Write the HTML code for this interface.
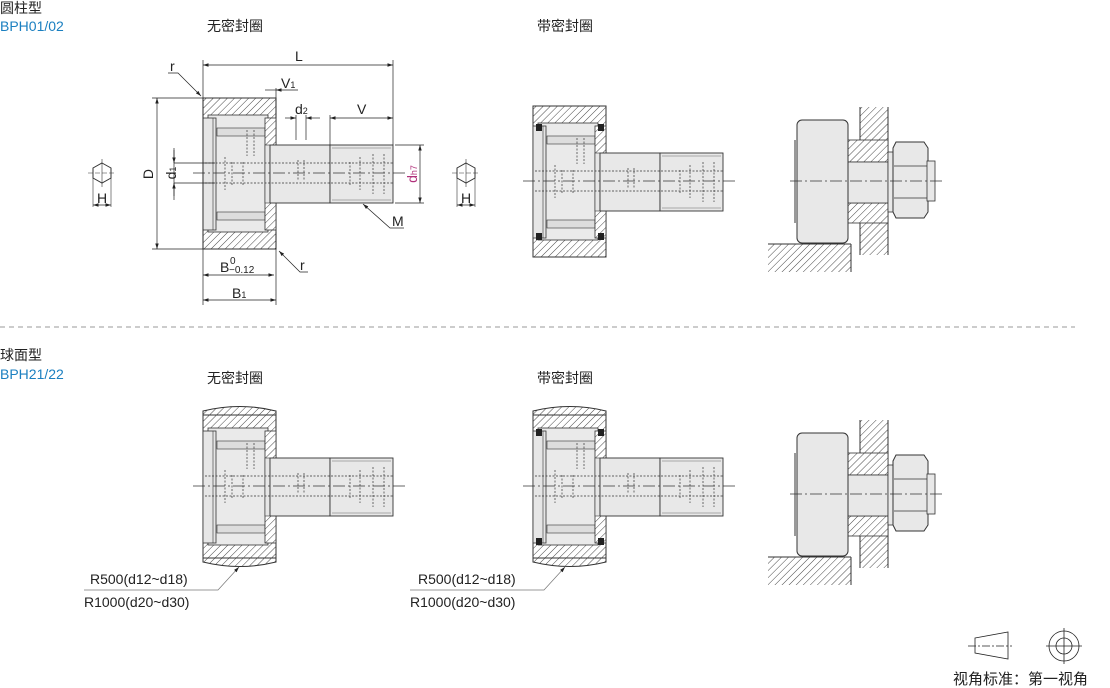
<!DOCTYPE html>
<html><head><meta charset="utf-8"><style>
body{margin:0;background:#fff;}
svg{display:block;font-family:"Liberation Sans","Noto Sans CJK SC",sans-serif;}
</style></head><body>
<svg width="1110" height="688" viewBox="0 0 1110 688" xmlns="http://www.w3.org/2000/svg">
<defs>
<pattern id="h" width="5" height="5" patternUnits="userSpaceOnUse" patternTransform="rotate(45)">
<rect width="5" height="5" fill="#fff"/><line x1="0" y1="0" x2="0" y2="5" stroke="#333" stroke-width="0.9"/></pattern>
<marker id="a" markerWidth="8" markerHeight="6" refX="8" refY="3" orient="auto-start-reverse"><path d="M0,0.5 L8,3 L0,5.5z" fill="#222"/></marker>
<g id="brg">
 <rect x="203" y="98" width="73" height="151" fill="url(#h)" stroke="#333" stroke-width="1"/>
 <rect x="208" y="115" width="60" height="117" fill="#eaeaea" stroke="#333" stroke-width="0.8"/>
 <rect x="203" y="118" width="13" height="112" fill="#e6e6e6" stroke="#333" stroke-width="0.8"/>
 <line x1="213" y1="118" x2="213" y2="230" stroke="#333" stroke-width="0.6"/>
 <rect x="217" y="128" width="48" height="8" fill="#ddd" stroke="#333" stroke-width="0.6"/>
 <rect x="217" y="212" width="48" height="8" fill="#ddd" stroke="#333" stroke-width="0.6"/>
 <rect x="265" y="118" width="11" height="112" fill="url(#h)" stroke="#333" stroke-width="0.8"/>
 <rect x="265" y="145" width="5" height="58" fill="#e6e6e6" stroke="#333" stroke-width="0.6"/>
 <rect x="270" y="145" width="60" height="58" fill="#e8e8e8" stroke="#333" stroke-width="0.9"/>
 <rect x="330" y="145" width="63" height="58" fill="#e8e8e8" stroke="#333" stroke-width="0.9"/>
 <line x1="332" y1="148" x2="391" y2="148" stroke="#666" stroke-width="0.5"/>
 <line x1="332" y1="200" x2="391" y2="200" stroke="#666" stroke-width="0.5"/>
 <g stroke="#333" stroke-width="0.7" stroke-dasharray="2,1.5" fill="none">
  <line x1="205" y1="163" x2="393" y2="163"/><line x1="205" y1="183" x2="393" y2="183"/>
  <path d="M225,157 v33 M232,162 v24 M243,162 v24 M298,160 v20 M304,160 v20 M350,162 v24 M360,157 v33 M373,154 v40 M384,154 v40 M247,130 v26 M254,130 v26"/>
 </g>
</g>
<g id="sph">
 <path d="M203,98 Q240,89 276,98 V102 H203z" fill="url(#h)" stroke="#333" stroke-width="1"/>
 <path d="M203,249 Q240,258 276,249 V245 H203z" fill="url(#h)" stroke="#333" stroke-width="1"/>
</g>
<g id="mnt">
 <rect x="768" y="244" width="83" height="28" fill="url(#h)"/>
 <line x1="768" y1="244" x2="851" y2="244" stroke="#333"/><line x1="851" y1="244" x2="851" y2="272" stroke="#333"/>
 <rect x="860" y="107" width="28" height="148" fill="url(#h)"/>
 <line x1="860" y1="107" x2="860" y2="140" stroke="#333"/><line x1="860" y1="222" x2="860" y2="255" stroke="#333"/><line x1="888" y1="107" x2="888" y2="255" stroke="#333"/>
 <rect x="848" y="140" width="40" height="22" fill="url(#h)" stroke="#333" stroke-width="0.8"/>
 <rect x="848" y="203" width="40" height="20" fill="url(#h)" stroke="#333" stroke-width="0.8"/>
 <rect x="848" y="162" width="40" height="41" fill="#e8e8e8" stroke="#333" stroke-width="0.8"/>
 <rect x="797" y="120" width="51" height="123" rx="5" fill="#e8e8e8" stroke="#333"/>
 <line x1="795" y1="140" x2="795" y2="223" stroke="#333"/>
 <rect x="888" y="152" width="6" height="60" fill="#e8e8e8" stroke="#333" stroke-width="0.8"/>
 <path d="M896,142 h28 l4,6 v64 l-4,6 h-28 l-3,-6 v-64z" fill="#e8e8e8" stroke="#333"/>
 <line x1="894" y1="166" x2="927" y2="166" stroke="#333" stroke-width="0.7"/>
 <line x1="894" y1="198" x2="927" y2="198" stroke="#333" stroke-width="0.7"/>
 <rect x="927" y="161" width="8" height="40" fill="#e8e8e8" stroke="#333" stroke-width="0.8"/>
 <line x1="790" y1="181" x2="942" y2="181" stroke="#333" stroke-width="0.7" stroke-dasharray="12,3,2,3"/>
</g>
<g id="hex">
 <polygon points="0,-10 9,-5 9,5 0,10 -9,5 -9,-5" fill="#fff" stroke="#333"/>
 <line x1="-14" y1="0" x2="14" y2="0" stroke="#333" stroke-width="0.6" stroke-dasharray="5,2"/>
 <line x1="0" y1="-14" x2="0" y2="14" stroke="#333" stroke-width="0.6"/>
 <line x1="-9" y1="5" x2="-9" y2="34" stroke="#333" stroke-width="0.6"/><line x1="9" y1="5" x2="9" y2="34" stroke="#333" stroke-width="0.6"/>
 <line x1="-9" y1="32" x2="9" y2="32" stroke="#222" stroke-width="0.7" marker-start="url(#a)" marker-end="url(#a)"/>
 <text x="0" y="30" font-size="14" text-anchor="middle" fill="#222">H</text>
</g>
<g id="seals" fill="#222"><rect x="536" y="116" width="6" height="7"/><rect x="536" y="225" width="6" height="7"/><rect x="598" y="116" width="6" height="7"/><rect x="598" y="225" width="6" height="7"/></g>
</defs>

<text x="0" y="13" font-size="14" fill="#222">圆柱型</text>
<text x="0" y="31" font-size="14" fill="#1a7fc0">BPH01/02</text>
<text x="207" y="31" font-size="14" fill="#222">无密封圈</text>
<text x="537" y="31" font-size="14" fill="#222">带密封圈</text>

<use href="#brg"/>
<line x1="193" y1="173" x2="405" y2="173" stroke="#333" stroke-width="0.7" stroke-dasharray="12,3,2,3"/>
<use href="#hex" x="102" y="173"/>
<use href="#hex" x="466" y="173"/>

<g stroke="#222" stroke-width="0.7" fill="none">
 <line x1="203" y1="60" x2="203" y2="305"/><line x1="393" y1="60" x2="393" y2="145"/>
 <line x1="203" y1="65" x2="393" y2="65" marker-start="url(#a)" marker-end="url(#a)"/>
 <line x1="152" y1="98" x2="203" y2="98"/><line x1="152" y1="249" x2="203" y2="249"/>
 <line x1="157" y1="98" x2="157" y2="249" marker-start="url(#a)" marker-end="url(#a)"/>
 <line x1="174" y1="148" x2="174" y2="200"/>
 <line x1="174" y1="150" x2="174" y2="163" marker-end="url(#a)"/><line x1="174" y1="196" x2="174" y2="183" marker-end="url(#a)"/>
 <line x1="174" y1="163" x2="215" y2="163"/><line x1="174" y1="183" x2="215" y2="183"/>
 <line x1="395" y1="145" x2="424" y2="145"/><line x1="395" y1="203" x2="424" y2="203"/>
 <line x1="420" y1="145" x2="420" y2="203" marker-start="url(#a)" marker-end="url(#a)"/>
 <line x1="330" y1="115" x2="330" y2="145"/>
 <line x1="330" y1="118" x2="393" y2="118" marker-start="url(#a)" marker-end="url(#a)"/>
 <line x1="276" y1="88" x2="276" y2="118"/>
 <line x1="276" y1="90" x2="298" y2="90" marker-start="url(#a)"/><line x1="265" y1="90" x2="276" y2="90"/>
 <line x1="296" y1="115" x2="296" y2="140"/><line x1="306" y1="115" x2="306" y2="140"/>
 <line x1="285" y1="118" x2="296" y2="118" marker-end="url(#a)"/><line x1="320" y1="118" x2="306" y2="118" marker-end="url(#a)"/>
 <line x1="276" y1="232" x2="276" y2="305"/>
 <line x1="203" y1="275" x2="274" y2="275" marker-start="url(#a)" marker-end="url(#a)"/>
 <line x1="203" y1="300" x2="276" y2="300" marker-start="url(#a)" marker-end="url(#a)"/>
 <path d="M168,73 h10 L201,96" marker-end="url(#a)"/>
 <path d="M308,272 h-8 L279,251" marker-end="url(#a)"/>
 <path d="M404,228 h-14 L363,204" marker-end="url(#a)"/>
</g>
<g font-size="14" fill="#222">
 <text x="295" y="61">L</text>
 <text x="170" y="71">r</text>
 <text x="281" y="88">V<tspan font-size="9">1</tspan></text>
 <text x="295" y="114">d<tspan font-size="9">2</tspan></text>
 <text x="357" y="114">V</text>
 <text transform="translate(153,174) rotate(-90)" text-anchor="middle">D</text>
 <text transform="translate(176,173) rotate(-90)" text-anchor="middle">d<tspan font-size="9">1</tspan></text>
 <text transform="translate(417,174) rotate(-90)" text-anchor="middle" fill="#b0307a">d<tspan font-size="9">h7</tspan></text>
 <text x="392" y="226">M</text>
 <text x="300" y="270">r</text>
 <text x="220" y="272">B</text>
 <text x="230" y="264" font-size="10">0</text>
 <text x="229" y="273" font-size="10">−0.12</text>
 <text x="232" y="298">B<tspan font-size="9">1</tspan></text>
</g>

<g transform="translate(330,8)">
 <use href="#brg"/>
 <use href="#seals" x="-330"/>
</g>
<line x1="523" y1="181" x2="735" y2="181" stroke="#333" stroke-width="0.7" stroke-dasharray="12,3,2,3"/>

<use href="#mnt"/>

<line x1="0" y1="327" x2="1075" y2="327" stroke="#999" stroke-width="1" stroke-dasharray="5,4"/>

<text x="0" y="360" font-size="14" fill="#222">球面型</text>
<text x="0" y="379" font-size="14" fill="#1a7fc0">BPH21/22</text>
<text x="207" y="383" font-size="14" fill="#222">无密封圈</text>
<text x="537" y="383" font-size="14" fill="#222">带密封圈</text>

<g transform="translate(0,313)"><use href="#brg"/><use href="#sph"/></g>
<line x1="193" y1="486" x2="405" y2="486" stroke="#333" stroke-width="0.7" stroke-dasharray="12,3,2,3"/>
<g transform="translate(330,313)"><use href="#brg"/><use href="#sph"/><use href="#seals" x="-330"/></g>
<line x1="523" y1="486" x2="735" y2="486" stroke="#333" stroke-width="0.7" stroke-dasharray="12,3,2,3"/>

<use href="#mnt" y="313"/>

<g stroke="#777" stroke-width="0.7" fill="none">
 <path d="M84,590 H218 L239,567" marker-end="url(#a)"/>
 <path d="M410,590 H544 L565,567" marker-end="url(#a)"/>
</g>
<g font-size="14" fill="#222">
 <text x="90" y="584">R500(d12~d18)</text>
 <text x="84" y="607">R1000(d20~d30)</text>
 <text x="418" y="584">R500(d12~d18)</text>
 <text x="410" y="607">R1000(d20~d30)</text>
</g>

<g stroke="#222" stroke-width="0.8" fill="none">
 <path d="M975,638 L1008,632 V659 L975,653z"/>
 <line x1="968" y1="646" x2="1012" y2="646" stroke-dasharray="8,2,2,2"/>
 <circle cx="1064" cy="646" r="15"/><circle cx="1064" cy="646" r="8"/>
 <line x1="1046" y1="646" x2="1082" y2="646"/><line x1="1064" y1="628" x2="1064" y2="664"/>
</g>
<text x="953" y="684" font-size="15" fill="#222">视角标准：第一视角</text>
</svg>
</body></html>
